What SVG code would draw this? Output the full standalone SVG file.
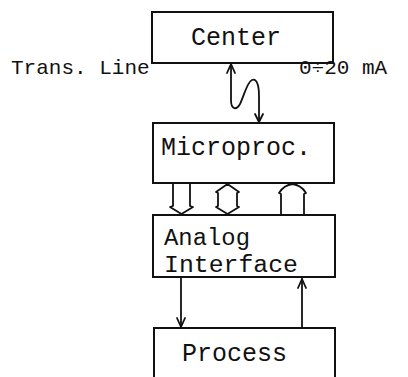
<svg xmlns="http://www.w3.org/2000/svg" width="408" height="377" viewBox="0 0 408 377">
  <style>
    .box { fill: #ffffff; stroke: #111111; stroke-width: 2; }
    .lbl { font-family: "Liberation Mono", "Courier New", monospace; font-size: 25px; fill: #111111; }
    .lbl2 { font-family: "Liberation Mono", "Courier New", monospace; font-size: 23px; fill: #111111; }
    .note { font-family: "Liberation Mono", "Courier New", monospace; font-size: 21px; fill: #111111; }
    .wire { fill: none; stroke: #111111; stroke-width: 1.8; stroke-linejoin: round; stroke-linecap: round; }
  </style>
  <rect x="0" y="0" width="408" height="377" fill="#ffffff"/>

  <!-- blocks -->
  <g id="center">
    <rect class="box" x="152" y="12" width="181" height="51"/>
    <text class="lbl" x="191" y="45">Center</text>
  </g>
  <g id="microproc">
    <rect class="box" x="153" y="123" width="181" height="60"/>
    <text class="lbl" x="161" y="155">Microproc.</text>
  </g>
  <g id="analog-interface">
    <rect class="box" x="153" y="215" width="182" height="62"/>
    <text class="lbl2" x="164" y="245" textLength="86" lengthAdjust="spacingAndGlyphs">Analog</text>
    <text class="lbl2" x="164" y="272" textLength="134" lengthAdjust="spacingAndGlyphs">Interface</text>
  </g>
  <g id="process">
    <rect class="box" x="154" y="328" width="181" height="70"/>
    <text class="lbl" x="182" y="361">Process</text>
  </g>

  <!-- side labels of the transmission line -->
  <g id="labels">
    <text class="note" x="11" y="74">Trans. Line</text>
    <text class="note" x="299" y="74">0÷20 mA</text>
  </g>

  <g id="connectors">
    <!-- wavy transmission line, Center <-> Microproc. -->
    <path class="wire" d="M231,65 L231,100 C231,109 236,111 240,104 C244,96 247,82 252,80 C257,78 259,86 259,96 L259,121"/>
    <path class="wire" d="M227,73 L231,64 L235,73"/>
    <path class="wire" d="M255,114 L259,122 L263,114"/>

    <!-- hollow bus arrows, Microproc. <-> Analog Interface -->
    <path class="wire" d="M173,184 L173,206 L170,207 L181.5,214 L193,207 L190,206 L190,184"/>
    <path class="wire" d="M218,193 L216,192 L227.5,184 L239,192 L237,193 L237,206 L239,207 L227.5,214 L216,207 L218,206 Z"/>
    <path class="wire" d="M281,215 L281,194 L279,193 Q284,185 292.5,184 Q301,185 306,193 L304,194 L304,215"/>

    <!-- signal lines, Analog Interface <-> Process -->
    <path class="wire" d="M181,278 L181,327"/>
    <path class="wire" d="M177,318 L181,327 L185,318"/>
    <path class="wire" d="M302,327 L302,279"/>
    <path class="wire" d="M298,288 L302,279 L306,288"/>
  </g>
</svg>
